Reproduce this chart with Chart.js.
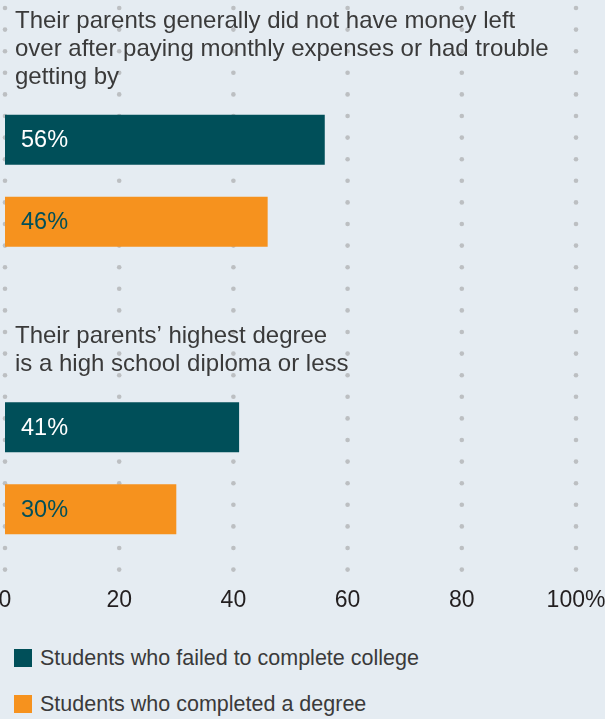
<!DOCTYPE html>
<html>
<head>
<meta charset="utf-8">
<script src="https://cdn.jsdelivr.net/npm/chart.js@4"></script>
<style>
  html, body { margin: 0; padding: 0; background: #e5ecf2; }
  body { width: 605px; height: 719px; position: relative; overflow: hidden; font-family: "Liberation Sans", Arial, sans-serif; }
  /* canvas is nudged up so the first group sits where the original has it */
  #chart { position: absolute; left: 0; top: -4px; }
  #legend { position: absolute; left: 14px; top: 649px; }
  .item { display: flex; align-items: center; height: 18px; margin-bottom: 28px; font-size: 21.5px; color: #3a3a3a; }
  .sw { width: 18px; height: 18px; margin-right: 8px; flex: none; }
</style>
</head>
<body>
<canvas id="chart" width="605" height="624"></canvas>
<div id="legend"></div>
<script>
const categories = [
  ['Their parents generally did not have money left', 'over after paying monthly expenses or had trouble', 'getting by'],
  ['Their parents\u2019 highest degree', 'is a high school diploma or less']
];
const seriesNames = ['Students who failed to complete college', 'Students who completed a degree'];
const failedValues = [56, 41];
const completedValues = [46, 30];
const xTicks = [0, 20, 40, 60, 80, 100];

const TEAL = '#004f59';
const ORANGE = '#f6921e';
const FONT = '"Liberation Sans", Arial, sans-serif';

// dotted vertical guides at every x tick, behind the bars
const dotGrid = {
  id: 'dotGrid',
  beforeDatasetsDraw(chart) {
    const { ctx, chartArea, scales } = chart;
    ctx.save();
    ctx.fillStyle = '#bcbfc2';
    xTicks.forEach(v => {
      const x = scales.x.getPixelForValue(v);
      for (let y = chartArea.top + 12; y <= chartArea.bottom + 0.5; y += 21.6) {
        ctx.beginPath();
        ctx.arc(x, y, 2.3, 0, Math.PI * 2);
        ctx.fill();
      }
    });
    ctx.restore();
  }
};

// category headings above each group + value labels inside bars
const labelsPlugin = {
  id: 'labelsPlugin',
  afterDatasetsDraw(chart) {
    const { ctx, scales } = chart;
    ctx.save();
    ctx.font = '24px ' + FONT;
    ctx.fillStyle = '#3a3a3a';
    ctx.textAlign = 'left';
    ctx.textBaseline = 'alphabetic';
    categories.forEach((lines, i) => {
      const c = scales.y.getPixelForValue(i);
      const last = c - 56;
      lines.forEach((t, k) => {
        ctx.fillText(t, 15, last - (lines.length - 1 - k) * 28);
      });
    });

    ctx.font = '23.5px ' + FONT;
    ctx.textBaseline = 'middle';
    [1, 2].forEach(di => {
      const meta = chart.getDatasetMeta(di);
      const ds = chart.data.datasets[di];
      meta.data.forEach((bar, j) => {
        ctx.fillStyle = di === 1 ? '#ffffff' : TEAL;
        ctx.fillText(ds.data[j] + '%', bar.base + 16, bar.y + 1);
      });
    });
    ctx.restore();
  }
};

new Chart(document.getElementById('chart'), {
  type: 'bar',
  data: {
    labels: categories,
    datasets: [
      // empty slot so each group's first bar sits at the category centre
      { label: '', data: categories.map(() => null), backgroundColor: 'rgba(0,0,0,0)' },
      { label: seriesNames[0], data: failedValues, backgroundColor: TEAL },
      { label: seriesNames[1], data: completedValues, backgroundColor: ORANGE }
    ]
  },
  options: {
    indexAxis: 'y',
    responsive: false,
    animation: false,
    categoryPercentage: 0.8557,
    barPercentage: 0.61,
    layout: { padding: { left: 5, right: 29, top: 0, bottom: 6 } },
    plugins: { legend: { display: false }, tooltip: { enabled: false } },
    scales: {
      y: { type: 'category', display: false },
      x: {
        min: 0,
        max: 100,
        afterBuildTicks: s => { s.ticks = xTicks.map(v => ({ value: v })); },
        afterFit: s => { s.paddingLeft = 0; s.paddingRight = 0; s.height = 43; },
        grid: { display: false, drawTicks: false },
        border: { display: false },
        ticks: {
          padding: 16,
          maxRotation: 0,
          autoSkip: false,
          color: '#231f20',
          font: { family: FONT, size: 23 },
          callback: v => v === 100 ? '100%' : String(v)
        }
      }
    }
  },
  plugins: [dotGrid, labelsPlugin]
});

const legend = document.getElementById('legend');
seriesNames.forEach((name, i) => {
  const row = document.createElement('div');
  row.className = 'item';
  row.innerHTML = '<span class="sw" style="background:' + (i === 0 ? TEAL : ORANGE) + '"></span><span>' + name + '</span>';
  legend.appendChild(row);
});
</script>
</body>
</html>
